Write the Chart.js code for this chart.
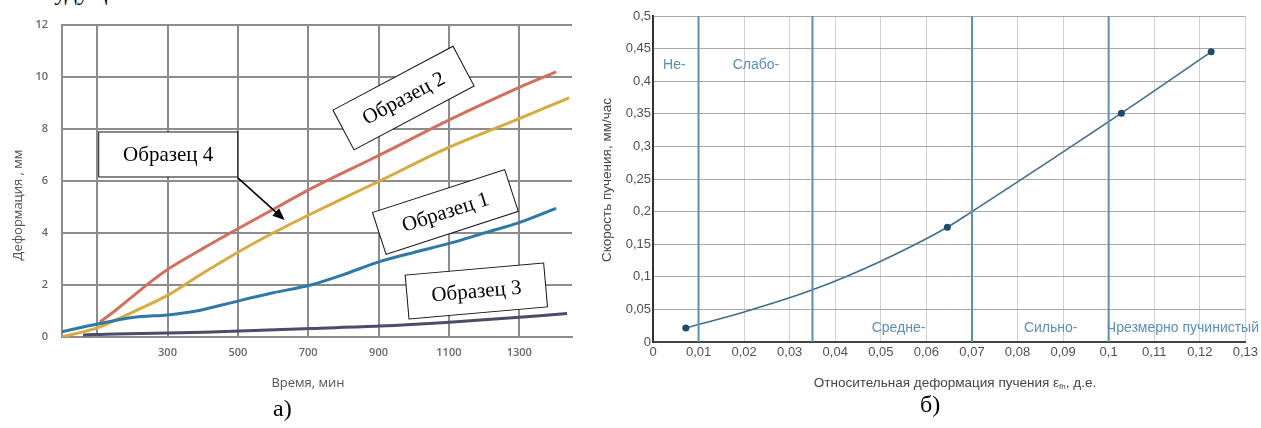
<!DOCTYPE html>
<html>
<head>
<meta charset="utf-8">
<script src="https://cdn.jsdelivr.net/npm/chart.js@4.4.1/dist/chart.umd.min.js"></script>
<style>
  html, body { margin: 0; padding: 0; background: #fff; }
  body { position: relative; width: 1261px; height: 428px; overflow: hidden; }
  .wrap { position: absolute; top: 0; height: 428px; }
  #wrapA { left: 0; width: 600px; }
  #wrapB { left: 600px; width: 661px; }
  .cap { position: absolute; font-family: "Liberation Serif", "Times New Roman", serif; font-size: 24px; line-height: 1; color: #000; }
</style>
</head>
<body>
<div class="cap" style="left:43px; top:-20px;">будущ</div>
<div class="wrap" id="wrapA"><canvas id="chartA"></canvas></div>
<div class="wrap" id="wrapB"><canvas id="chartB"></canvas></div>
<div class="cap" style="left:273px; top:396px;">а)</div>
<div class="cap" style="left:920px; top:392px;">б)</div>

<script>
// ===========================
// Data: chart (a) deformation vs time
// ===========================
const TIME_S1 = [0, 100, 200, 300, 350, 400, 505, 600, 707, 800, 903, 1000, 1101, 1200, 1300, 1405];
const DEF_S1  = [0.2, 0.5, 0.75, 0.85, 0.93, 1.05, 1.4, 1.7, 2.0, 2.4, 2.9, 3.25, 3.6, 4.0, 4.4, 4.95];

const TIME_S2 = [108, 150, 200, 250, 300, 400, 505, 619, 707, 903, 1101, 1300, 1405];
const DEF_S2  = [0.58, 1.0, 1.55, 2.1, 2.6, 3.4, 4.2, 5.05, 5.7, 7.0, 8.35, 9.6, 10.2];

const TIME_S3 = [60, 150, 300, 505, 707, 903, 1101, 1300, 1436];
const DEF_S3  = [0.08, 0.12, 0.15, 0.23, 0.33, 0.42, 0.57, 0.76, 0.9];

const TIME_S4 = [0, 100, 200, 300, 400, 505, 600, 710, 903, 1101, 1300, 1442];
const DEF_S4  = [0.0, 0.35, 0.95, 1.6, 2.45, 3.3, 4.0, 4.75, 6.0, 7.3, 8.4, 9.2];

const X_GRID_A   = [0, 100, 300, 500, 700, 900, 1100, 1300];
const X_LABELS_A = [300, 500, 700, 900, 1100, 1300];
const Y_TICKS_A  = [0, 2, 4, 6, 8, 10, 12];

// ===========================
// Data: chart (б) heave rate vs relative deformation
// ===========================
const EPS   = [0.0072, 0.02, 0.035, 0.05, 0.0646, 0.07, 0.1028, 0.1225];
const RATE  = [0.0215, 0.046, 0.08, 0.124, 0.176, 0.2, 0.351, 0.445];
const MEASURED = [true, false, false, false, true, false, true, true];

const ZONE_BOUNDS = [0.01, 0.035, 0.07, 0.1];
const ZONE_NAMES  = ['Не-', 'Слабо-', 'Средне-', 'Сильно-', 'Чрезмерно пучинистый'];

const X_TICKS_B = [0, 0.01, 0.02, 0.03, 0.04, 0.05, 0.06, 0.07, 0.08, 0.09, 0.1, 0.11, 0.12, 0.13];
const Y_TICKS_B = [0, 0.05, 0.1, 0.15, 0.2, 0.25, 0.3, 0.35, 0.4, 0.45, 0.5];

// ===========================
// Helpers
// ===========================
function pts(xs, ys) { return xs.map((x, i) => ({ x, y: ys[i] })); }
function comma(v) { return String(Math.round(v * 1000) / 1000).replace('.', ','); }

Chart.defaults.animation = false;
Chart.defaults.plugins.legend.display = false;
Chart.defaults.plugins.tooltip.enabled = false;

// ===========================
// Chart (a)
// ===========================
const SAMPLE_NOTES = [
  { text: 'Образец 4', t: 302,  v: 7.02, w: 139, h: 45, angle: 0 },
  { text: 'Образец 2', t: 971,  v: 9.19, w: 136, h: 45, angle: -28 },
  { text: 'Образец 1', t: 1090, v: 4.81, w: 139, h: 44, angle: -18 },
  { text: 'Образец 3', t: 1178, v: 1.77, w: 139, h: 44, angle: -5 }
];
const ARROW = { from: [500, 6.12], to: [633, 4.5] };

const notesPlugin = {
  id: 'notes',
  afterDraw(chart) {
    const { ctx, scales: { x, y } } = chart;
    ctx.save();
    SAMPLE_NOTES.forEach(n => {
      ctx.save();
      ctx.translate(x.getPixelForValue(n.t), y.getPixelForValue(n.v));
      ctx.rotate(n.angle * Math.PI / 180);
      ctx.fillStyle = '#fff';
      ctx.fillRect(-n.w / 2, -n.h / 2, n.w, n.h);
      ctx.strokeStyle = '#111';
      ctx.lineWidth = 1;
      ctx.strokeRect(-n.w / 2, -n.h / 2, n.w, n.h);
      ctx.fillStyle = '#000';
      ctx.font = '21px "Liberation Serif", "Times New Roman", serif';
      ctx.textAlign = 'center';
      ctx.textBaseline = 'middle';
      ctx.fillText(n.text, 0, 1);
      ctx.restore();
    });

    // arrow to sample 4
    const x0 = x.getPixelForValue(ARROW.from[0]), y0 = y.getPixelForValue(ARROW.from[1]);
    const x1 = x.getPixelForValue(ARROW.to[0]),   y1 = y.getPixelForValue(ARROW.to[1]);
    const a = Math.atan2(y1 - y0, x1 - x0);
    ctx.strokeStyle = '#000';
    ctx.lineWidth = 1.5;
    ctx.beginPath();
    ctx.moveTo(x0, y0);
    ctx.lineTo(x1 - 8 * Math.cos(a), y1 - 8 * Math.sin(a));
    ctx.stroke();
    ctx.fillStyle = '#000';
    ctx.beginPath();
    ctx.moveTo(x1, y1);
    ctx.lineTo(x1 - 12 * Math.cos(a) + 5 * Math.sin(a), y1 - 12 * Math.sin(a) - 5 * Math.cos(a));
    ctx.lineTo(x1 - 12 * Math.cos(a) - 5 * Math.sin(a), y1 - 12 * Math.sin(a) + 5 * Math.cos(a));
    ctx.closePath();
    ctx.fill();

    // axis titles
    ctx.fillStyle = '#555';
    ctx.font = '13px "Open Sans", sans-serif';
    ctx.textAlign = 'center';
    ctx.textBaseline = 'middle';
    ctx.fillText('Время, мин', 308, 383);
    ctx.translate(18, 205);
    ctx.rotate(-Math.PI / 2);
    ctx.fillText('Деформация , мм', 0, 0);
    ctx.restore();
  }
};

const gridA = { color: '#8c8c8c', lineWidth: 2, drawTicks: false };
const tickFontA = { family: '"Open Sans", sans-serif', size: 11, weight: '600' };

new Chart(document.getElementById('chartA'), {
  type: 'scatter',
  data: {
    datasets: [
      { data: pts(TIME_S3, DEF_S3), borderColor: '#4d4b6b' },
      { data: pts(TIME_S1, DEF_S1), borderColor: '#2f79a9' },
      { data: pts(TIME_S4, DEF_S4), borderColor: '#d8aa40' },
      { data: pts(TIME_S2, DEF_S2), borderColor: '#d2705b' }
    ].map(d => Object.assign(d, { showLine: true, borderWidth: 3, pointRadius: 0, tension: 0.3, fill: false }))
  },
  options: {
    responsive: true,
    maintainAspectRatio: false,
    layout: { padding: { top: 25, right: 28, left: 0, bottom: 0 } },
    scales: {
      x: {
        type: 'linear', min: 0, max: 1450,
        afterBuildTicks: s => { s.ticks = X_GRID_A.map(v => ({ value: v })); },
        afterFit: s => { s.height = 91; },
        grid: gridA,
        border: { color: '#8c8c8c', width: 2 },
        ticks: {
          padding: 9, color: '#666', font: tickFontA, maxRotation: 0, autoSkip: false,
          callback: v => X_LABELS_A.includes(v) ? String(v) : ''
        }
      },
      y: {
        type: 'linear', min: 0, max: 12,
        afterBuildTicks: s => { s.ticks = Y_TICKS_A.map(v => ({ value: v })); },
        afterFit: s => { s.width = 62; },
        grid: gridA,
        border: { color: '#8c8c8c', width: 2 },
        ticks: { padding: 14, color: '#666', font: tickFontA }
      }
    }
  },
  plugins: [notesPlugin]
});

// ===========================
// Chart (б)
// ===========================
const ZONE_TEXT_AT = [
  { x: 0.0022, y: 0.425 },
  { x: 0.0175, y: 0.425 },
  { x: 0.048,  y: 0.0215 },
  { x: 0.0814, y: 0.0215 },
  { x: 0.0996, y: 0.0215 }
];

const zonesPlugin = {
  id: 'zones',
  afterDraw(chart) {
    const { ctx, scales: { x, y } } = chart;
    ctx.save();
    ctx.fillStyle = '#5a8fb9';
    ctx.font = '14px "Liberation Sans", Arial, sans-serif';
    ctx.textAlign = 'left';
    ctx.textBaseline = 'middle';
    ZONE_NAMES.forEach((name, i) => {
      ctx.fillText(name, x.getPixelForValue(ZONE_TEXT_AT[i].x), y.getPixelForValue(ZONE_TEXT_AT[i].y));
    });

    // axis titles
    const titleFont = '13.5px "Liberation Sans", Arial, sans-serif';
    const subFont = '8px "Liberation Sans", Arial, sans-serif';
    ctx.fillStyle = '#444';
    const main = 'Относительная деформация пучения ε';
    const sub = 'fh';
    const tail = ', д.е.';
    ctx.font = titleFont;
    const wMain = ctx.measureText(main).width;
    const wTail = ctx.measureText(tail).width;
    ctx.font = subFont;
    const wSub = ctx.measureText(sub).width;
    let px = 355 - (wMain + wSub + wTail) / 2;
    ctx.font = titleFont;
    ctx.fillText(main, px, 383);
    px += wMain;
    ctx.font = subFont;
    ctx.fillText(sub, px, 387);
    px += wSub;
    ctx.font = titleFont;
    ctx.fillText(tail, px, 383);

    ctx.textAlign = 'center';
    ctx.translate(7, 180);
    ctx.rotate(-Math.PI / 2);
    ctx.fillText('Скорость пучения, мм/час', 0, 0);
    ctx.restore();
  }
};

const tickFontB = { family: '"Liberation Sans", Arial, sans-serif', size: 13 };

const zoneSets = ZONE_BOUNDS.map(b => ({
  data: [{ x: b, y: 0 }, { x: b, y: 0.5 }],
  showLine: true, borderColor: '#5a8fb9', borderWidth: 2, pointRadius: 0
}));

new Chart(document.getElementById('chartB'), {
  type: 'scatter',
  data: {
    datasets: [
      ...zoneSets,
      {
        data: pts(EPS, RATE),
        showLine: true,
        borderColor: '#3f6f8f',
        borderWidth: 1.6,
        cubicInterpolationMode: 'monotone',
        pointRadius: MEASURED.map(m => m ? 3.5 : 0),
        pointBackgroundColor: '#1e4b6c',
        pointBorderColor: '#1e4b6c',
        pointBorderWidth: 0
      }
    ]
  },
  options: {
    responsive: true,
    maintainAspectRatio: false,
    layout: { padding: { top: 16, right: 14, left: 0, bottom: 0 } },
    scales: {
      x: {
        type: 'linear', min: 0, max: 0.13,
        afterBuildTicks: s => { s.ticks = X_TICKS_B.map(v => ({ value: v })); },
        afterFit: s => { s.height = 86; },
        grid: { color: '#d2d2d2', lineWidth: 1, drawTicks: false },
        border: { color: '#444', width: 2 },
        ticks: { padding: 3, color: '#505050', font: tickFontB, maxRotation: 0, autoSkip: false, callback: v => comma(v) }
      },
      y: {
        type: 'linear', min: 0, max: 0.5,
        afterBuildTicks: s => { s.ticks = Y_TICKS_B.map(v => ({ value: v })); },
        afterFit: s => { s.width = 53; },
        grid: { color: '#a9a9a9', lineWidth: 1, drawTicks: false },
        border: { color: '#333', width: 2 },
        ticks: { padding: 2, color: '#505050', font: tickFontB, callback: v => comma(v) }
      }
    }
  },
  plugins: [zonesPlugin]
});
</script>
</body>
</html>
